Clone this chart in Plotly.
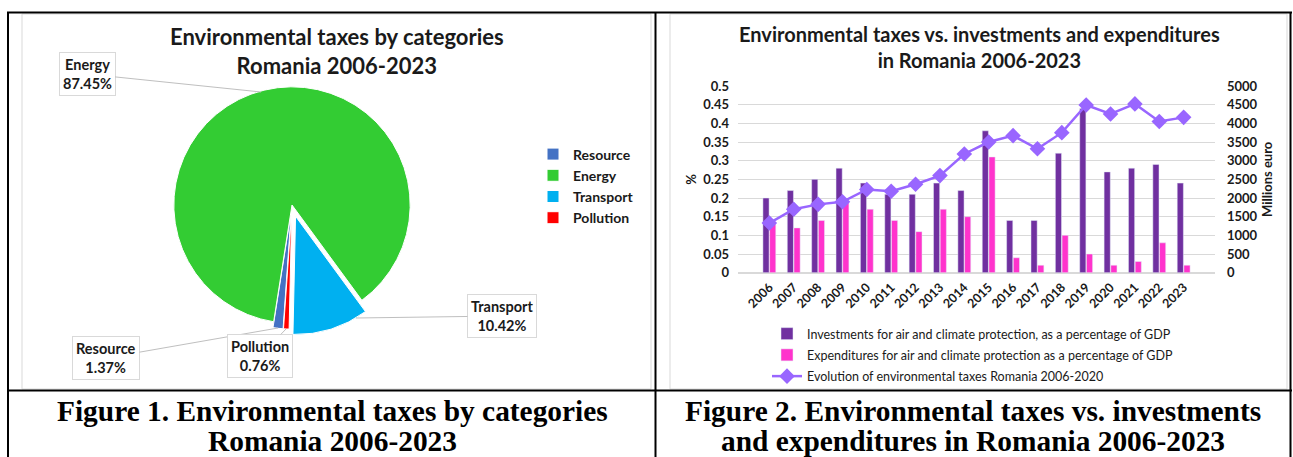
import plotly.graph_objects as go

# ---------------- data ----------------
pie_labels = ["Resource", "Energy", "Transport", "Pollution"]
pie_values = [1.37, 87.45, 10.42, 0.76]
pie_colors = ["#4472C4", "#33CC33", "#00B0F0", "#FF0000"]
pie_pull = [0.05, 0.0, 0.1, 0.05]

years = ["2006", "2007", "2008", "2009", "2010", "2011", "2012", "2013", "2014",
         "2015", "2016", "2017", "2018", "2019", "2020", "2021", "2022", "2023"]
investments = [0.20, 0.22, 0.25, 0.28, 0.24, 0.21, 0.21, 0.24, 0.22,
               0.38, 0.14, 0.14, 0.32, 0.44, 0.27, 0.28, 0.29, 0.24]
expenditures = [0.13, 0.12, 0.14, 0.19, 0.17, 0.14, 0.11, 0.17, 0.15,
                0.31, 0.04, 0.02, 0.10, 0.05, 0.02, 0.03, 0.08, 0.02]
env_taxes = [1330, 1700, 1830, 1900, 2230, 2180, 2370, 2600, 3180,
             3500, 3670, 3320, 3750, 4490, 4250, 4520, 4050, 4160]

series_names = ["Investments for air and climate protection, as a percentage of GDP",
                "Expenditures for air and climate protection as a percentage of GDP",
                "Evolution of environmental taxes Romania 2006-2020"]

W, H = 1293, 457
def px(x):
    return x / W
def py(y):
    return 1 - y / H

FONT = "Lato, 'Open Sans', sans-serif"
SERIF = "'Liberation Serif', 'Times New Roman', serif"
INK = "#1a1a1a"

fig = go.Figure()

# ---------------- pie (left) ----------------
fig.add_trace(go.Pie(
    labels=pie_labels, values=pie_values, sort=False, direction="clockwise",
    rotation=184, pull=pie_pull,
    marker=dict(colors=pie_colors, line=dict(color="white", width=1)),
    textinfo="none", hoverinfo="label+percent",
    domain=dict(x=[px(162), px(422)], y=[py(335), py(75)]),
    legend="legend2", showlegend=True,
))

# ---------------- bars + line (right) ----------------
fig.add_trace(go.Bar(x=years, y=investments, name=series_names[0],
                     marker_color="#7030A0", legendgroup="a", xaxis="x", yaxis="y"))
fig.add_trace(go.Bar(x=years, y=expenditures, name=series_names[1],
                     marker_color="#FF33CC", legendgroup="b", xaxis="x", yaxis="y"))
fig.add_trace(go.Scatter(x=years, y=env_taxes, name=series_names[2],
                         mode="lines+markers", line=dict(color="#9966FF", width=2.5),
                         marker=dict(symbol="diamond", size=12, color="#9966FF"),
                         legendgroup="c", xaxis="x", yaxis="y2"))

axis_font = dict(family=FONT, size=13, color=INK, weight="bold")

fig.update_layout(
    width=W, height=H, autosize=False,
    margin=dict(l=0, r=0, t=0, b=0, pad=0, autoexpand=False),
    paper_bgcolor="white", plot_bgcolor="white",
    font=dict(family=FONT, color=INK),
    barmode="group", bargap=0.45, bargroupgap=0.08,
    xaxis=dict(domain=[px(738), px(1215)], type="category", tickangle=-45,
               tickfont=dict(family=FONT, size=12.5, color=INK, weight="bold"),
               ticklabelstandoff=4,
               showgrid=False, showline=False, ticks="", anchor="y", automargin=False),
    yaxis=dict(domain=[py(272.7), py(86)], range=[0, 0.5], dtick=0.05,
               tickfont=axis_font, showgrid=True, gridcolor="#D9D9D9", gridwidth=1,
               zeroline=True, zerolinecolor="#D9D9D9", showline=False, ticks="",
               ticklabelstandoff=8,
               title=dict(text="%", font=axis_font, standoff=3), anchor="x",
               automargin=False),
    yaxis2=dict(range=[0, 5000], dtick=500, overlaying="y", side="right",
                tickfont=axis_font, showgrid=False, zeroline=False, showline=False,
                ticks="", anchor="x", automargin=False, ticklabelstandoff=11,
                title=dict(text="Millions euro", font=axis_font, standoff=6)),
    legend=dict(x=px(767), y=py(319), xanchor="left", yanchor="top",
                font=dict(family=FONT, size=12.5, color=INK),
                tracegroupgap=2, bgcolor="rgba(0,0,0,0)", traceorder="grouped"),
    legend2=dict(x=px(533), y=py(138.5), xanchor="left", yanchor="top",
                 font=dict(family=FONT, size=14, color=INK, weight="bold"),
                 bgcolor="rgba(0,0,0,0)"),
)

# ---------------- titles, captions ----------------
def text_ann(text, x, y, font):
    return dict(text=text, x=px(x), y=py(y), xref="paper", yref="paper",
                showarrow=False, xanchor="center", yanchor="middle",
                font=font, align="center")

title_font_l = dict(family=FONT, size=22, color=INK)
title_font_r = dict(family=FONT, size=20, color=INK)
cap_font = dict(family=SERIF, size=29.4, color="black")

ann = []
ann.append(text_ann("<b>Environmental taxes by categories<br>Romania 2006-2023</b>", 337, 50.5,
                    title_font_l))
ann.append(text_ann("<b>Environmental taxes vs. investments and expenditures<br>in Romania 2006-2023</b>",
                    980, 46.5, title_font_r))
ann.append(text_ann("<b>Figure 1. Environmental taxes by categories</b>", 332, 411, cap_font))
ann.append(text_ann("<b>Romania 2006-2023</b>", 332, 441, cap_font))
ann.append(text_ann("<b>Figure 2. Environmental taxes vs. investments</b>", 973, 411, cap_font))
ann.append(text_ann("<b>and expenditures in Romania 2006-2023</b>", 973, 441, cap_font))

# pie data labels (boxes with leader lines)
label_pos = {  # arrow tip (px), box-centre offset (px)
    "Energy": ((261, 92), (-174, -18)),
    "Transport": ((356, 318), (146, -2)),
    "Resource": ((278, 328), (-172, 30)),
    "Pollution": ((286, 329), (-26, 27)),
}
for lab, val in zip(pie_labels, pie_values):
    (tx, ty), (ax, ay) = label_pos[lab]
    ann.append(dict(text=f"<b>{lab}<br>{val:.2f}%</b>", x=px(tx), y=py(ty),
                    xref="paper", yref="paper", showarrow=True, arrowhead=0,
                    arrowwidth=1, arrowcolor="#BFBFBF", ax=ax, ay=ay,
                    font=dict(family=FONT, size=14.5, color=INK),
                    bgcolor="white", bordercolor="#D9D9D9", borderwidth=1, borderpad=3,
                    align="center"))
fig.update_layout(annotations=ann)

# ---------------- frame ----------------
shapes = []
gray = dict(color="#D9D9D9", width=1)
shapes.append(dict(type="rect", xref="paper", yref="paper", x0=px(22), x1=px(651),
                   y0=py(389), y1=py(14), line=gray, layer="below"))
shapes.append(dict(type="rect", xref="paper", yref="paper", x0=px(670), x1=px(1287),
                   y0=py(389), y1=py(14), line=gray, layer="below"))
blk = dict(color="black", width=2)
for (x0, y0, x1, y1) in [(7, 12.5, 1292, 12.5), (8, 12, 8, 457), (655.5, 12, 655.5, 457),
                         (1290.5, 12, 1290.5, 457), (7, 390.5, 1292, 390.5)]:
    shapes.append(dict(type="line", xref="paper", yref="paper", x0=px(x0), y0=py(y0),
                       x1=px(x1), y1=py(y1), line=blk))
fig.update_layout(shapes=shapes)

fig.write_html("out.html", config={"displayModeBar": False},
               post_script="document.body.style.margin='0';")
